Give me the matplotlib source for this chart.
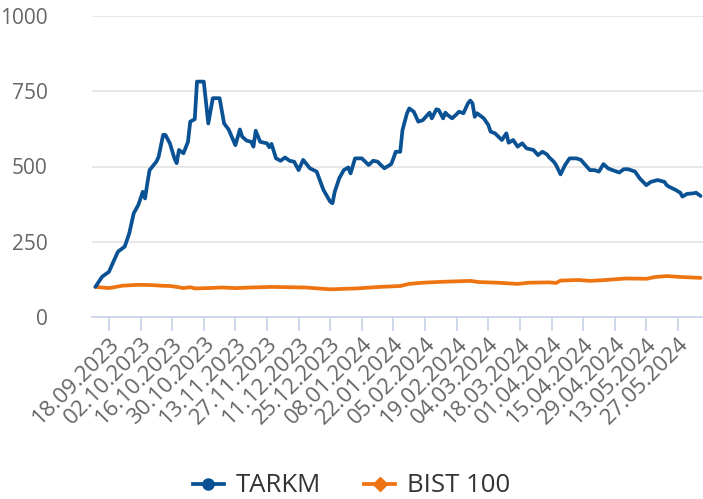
import numpy as np
import matplotlib
matplotlib.use("Agg")
import matplotlib.pyplot as plt
import matplotlib.dates as mdates
from matplotlib.lines import Line2D

plt.rcParams['font.family'] = ['Open Sans', 'DejaVu Sans']

# TARKM, normalised to 100 at start
tarkm_dates = [
    "2023-09-12", "2023-09-15", "2023-09-18", "2023-09-20", "2023-09-22", "2023-09-25",
    "2023-09-27", "2023-09-29", "2023-10-01", "2023-10-03", "2023-10-04", "2023-10-05",
    "2023-10-06", "2023-10-09", "2023-10-10", "2023-10-12", "2023-10-13", "2023-10-15",
    "2023-10-17", "2023-10-18", "2023-10-19", "2023-10-21", "2023-10-23", "2023-10-24",
    "2023-10-26", "2023-10-27", "2023-10-30", "2023-11-01", "2023-11-03", "2023-11-06",
    "2023-11-08", "2023-11-10", "2023-11-12", "2023-11-13", "2023-11-15", "2023-11-16",
    "2023-11-18", "2023-11-20", "2023-11-21", "2023-11-22", "2023-11-24", "2023-11-27",
    "2023-11-28", "2023-11-29", "2023-12-01", "2023-12-03", "2023-12-05", "2023-12-07",
    "2023-12-09", "2023-12-11", "2023-12-13", "2023-12-16", "2023-12-19", "2023-12-22",
    "2023-12-25", "2023-12-26", "2023-12-27", "2023-12-29", "2023-12-31", "2024-01-02",
    "2024-01-03", "2024-01-05", "2024-01-08", "2024-01-11", "2024-01-13", "2024-01-15",
    "2024-01-16", "2024-01-18", "2024-01-21", "2024-01-22", "2024-01-23", "2024-01-25",
    "2024-01-26", "2024-01-28", "2024-01-29", "2024-01-31", "2024-02-02", "2024-02-04",
    "2024-02-06", "2024-02-07", "2024-02-08", "2024-02-10", "2024-02-11", "2024-02-13",
    "2024-02-14", "2024-02-15", "2024-02-17", "2024-02-19", "2024-02-20", "2024-02-22",
    "2024-02-24", "2024-02-25", "2024-02-26", "2024-02-27", "2024-02-28", "2024-03-02",
    "2024-03-04", "2024-03-05", "2024-03-07", "2024-03-10", "2024-03-12", "2024-03-13",
    "2024-03-15", "2024-03-17", "2024-03-19", "2024-03-21", "2024-03-24", "2024-03-26",
    "2024-03-28", "2024-03-30", "2024-03-31", "2024-04-02", "2024-04-03", "2024-04-05",
    "2024-04-07", "2024-04-09", "2024-04-12", "2024-04-14", "2024-04-16", "2024-04-18",
    "2024-04-20", "2024-04-22", "2024-04-24", "2024-04-26", "2024-04-28", "2024-05-01",
    "2024-05-03", "2024-05-05", "2024-05-08", "2024-05-10", "2024-05-13", "2024-05-15",
    "2024-05-18", "2024-05-21", "2024-05-22", "2024-05-23", "2024-05-26", "2024-05-28",
    "2024-05-29", "2024-05-31", "2024-06-03", "2024-06-04", "2024-06-06",
]
tarkm = [
    100, 134, 150, 184, 217, 234,
    278, 345, 372, 416, 394, 444,
    488, 516, 532, 605, 605, 577,
    527, 511, 555, 544, 582, 649,
    657, 782, 782, 643, 727, 727,
    643, 623, 588, 571, 623, 599,
    586, 582, 566, 619, 582, 577,
    564, 575, 527, 519, 530, 519,
    516, 488, 522, 494, 483, 422,
    383, 378, 416, 461, 488, 497,
    477, 527, 527, 505, 519, 516,
    508, 494, 508, 527, 549, 549,
    621, 677, 693, 682, 649, 654,
    671, 679, 660, 690, 688, 660,
    679, 671, 660, 674, 682, 677,
    710, 719, 710, 665, 677, 660,
    638, 616, 610, 588, 610, 579,
    588, 566, 577, 560, 555, 538,
    549, 540, 530, 516, 505, 474,
    505, 527, 527, 522, 505, 488,
    488, 483, 508, 494, 488, 480,
    491, 491, 483, 461, 438, 449,
    455, 449, 438, 433, 422, 413,
    400, 409, 411, 413, 402,
]

# BIST 100, normalised to 100 at start
bist_dates = [
    "2023-09-12", "2023-09-18", "2023-09-24", "2023-10-01", "2023-10-07", "2023-10-11",
    "2023-10-15", "2023-10-18", "2023-10-21", "2023-10-24", "2023-10-26", "2023-11-01",
    "2023-11-07", "2023-11-13", "2023-11-20", "2023-11-29", "2023-12-14", "2023-12-25",
    "2024-01-06", "2024-01-16", "2024-01-25", "2024-01-29", "2024-02-04", "2024-02-13",
    "2024-02-25", "2024-02-29", "2024-03-08", "2024-03-17", "2024-03-22", "2024-03-31",
    "2024-04-03", "2024-04-05", "2024-04-13", "2024-04-18", "2024-04-25", "2024-05-04",
    "2024-05-13", "2024-05-17", "2024-05-22", "2024-05-28", "2024-06-06",
]
bist = [
    100, 96, 104, 107, 106, 104,
    103, 100, 96, 99, 95, 96,
    98, 96, 98, 100, 98, 92,
    95, 100, 103, 110, 114, 117,
    120, 116, 114, 110, 114, 115,
    113, 121, 123, 120, 123, 128,
    127, 133, 136, 133, 130,
]

tick_dates = np.arange(np.datetime64("2023-09-18"), np.datetime64("2024-05-28"), 14)

blue = "#0a5293"
orange = "#ee7411"
gray_text = "#666666"
axis_col = "#ccd6eb"

fig = plt.figure(figsize=(7.03, 4.99), dpi=100)
ax = fig.add_axes([92 / 703, 1 - 317 / 499, 611 / 703, 301 / 499])

ax.plot(np.array(bist_dates, dtype="datetime64[D]"), bist, color=orange, lw=2.7,
        solid_joinstyle="round", solid_capstyle="round", zorder=3)
ax.plot(np.array(tarkm_dates, dtype="datetime64[D]"), tarkm, color=blue, lw=2.7,
        solid_joinstyle="round", solid_capstyle="round", zorder=4)

ax.set_ylim(0, 1000)
ax.set_yticks([0, 250, 500, 750, 1000])
ax.set_xlim(np.datetime64("2023-09-10T12:00"), np.datetime64("2024-06-07T02:00"))
ax.set_xticks(tick_dates)
ax.xaxis.set_major_formatter(mdates.DateFormatter("%d.%m.%Y"))

ax.grid(axis="y", color="#e6e6e6", lw=1.3)
ax.set_axisbelow(True)
for s in ["top", "right", "left"]:
    ax.spines[s].set_visible(False)
ax.spines["bottom"].set_color(axis_col)
ax.spines["bottom"].set_linewidth(1.3)

ax.tick_params(axis="y", length=0, pad=32, labelsize=15, labelcolor=gray_text)
ax.tick_params(axis="x", length=10, width=1.3, color=axis_col, labelsize=16,
               labelcolor=gray_text, pad=2)
for lab in ax.get_xticklabels():
    lab.set_rotation(45)
    lab.set_ha("right")
    lab.set_va("top")
    lab.set_rotation_mode("anchor")

handles = [
    Line2D([], [], color=blue, lw=2.7, marker="o", markersize=8),
    Line2D([], [], color=orange, lw=2.7, marker="D", markersize=7),
]
fig.legend(handles, ["TARKM", "BIST 100"], loc="center", bbox_to_anchor=(0.5, 13 / 499),
           ncol=2, frameon=False, fontsize=18.5, handlelength=1.2, handletextpad=0.45,
           columnspacing=1.7, labelcolor="#333333")

fig.savefig("out.png", dpi=100)
